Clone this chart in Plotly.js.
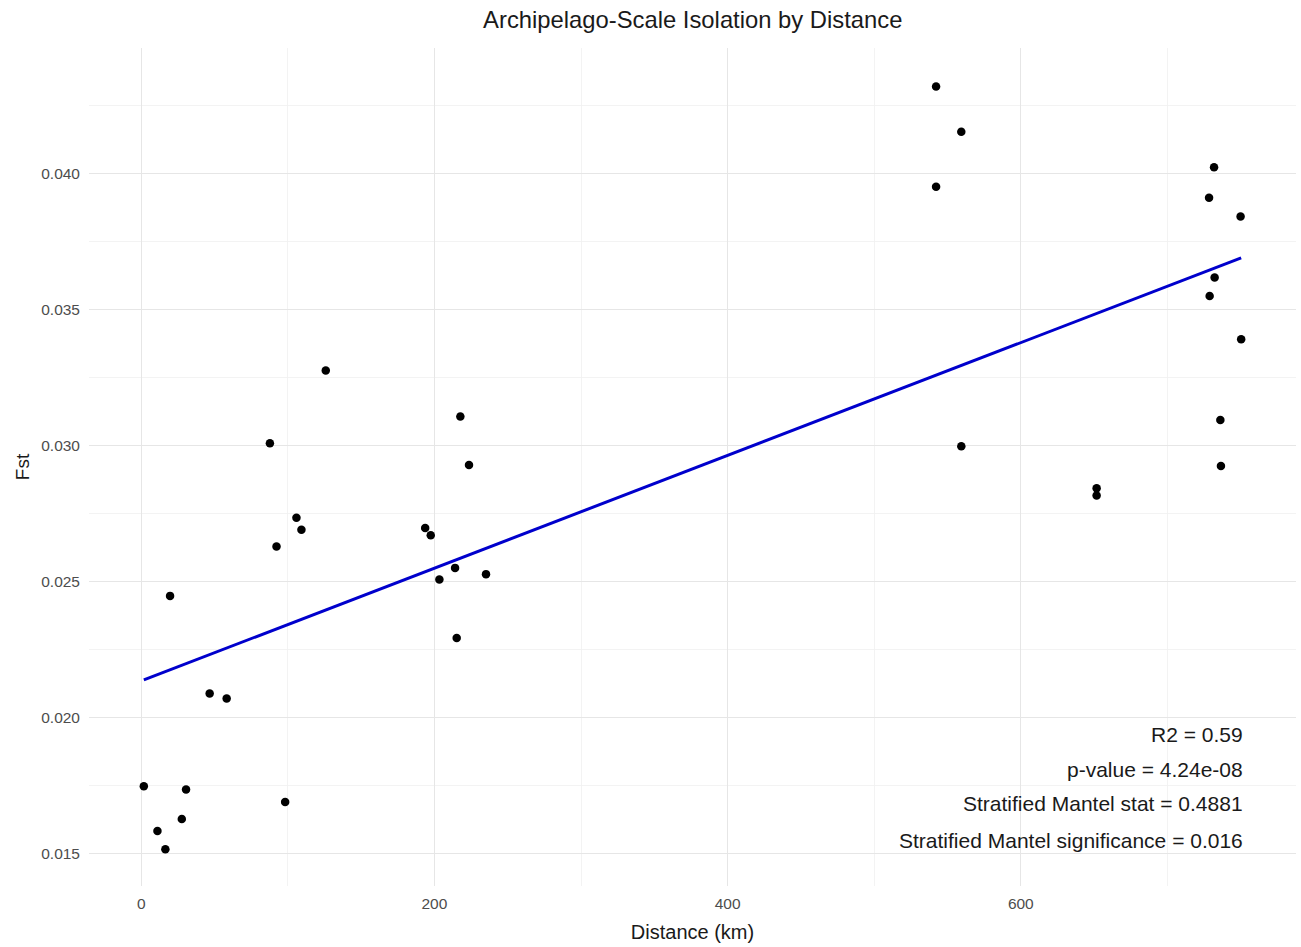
<!DOCTYPE html>
<html>
<head>
<meta charset="utf-8">
<script src="https://cdn.plot.ly/plotly-3.0.1.min.js"></script>
<style>html,body{margin:0;padding:0;background:#fff;}#chart{width:1301px;height:947px;}</style>
</head>
<body>
<div id="chart"></div>
<script>
// Pairwise distances (km) and Fst values
const distanceKm = [1.8, 11.1, 16.5, 19.7, 27.7, 30.6, 46.7, 58.3, 87.8, 92.3, 98.2, 105.9, 109.3, 125.9,
  193.7, 197.5, 203.4, 214.1, 215.2, 217.7, 223.6, 235.2,
  542.2, 542.2, 559.4, 559.4, 651.7, 651.7,
  728.4, 728.8, 731.8, 732.2, 736.1, 736.5, 749.9, 750.3];
const fst = [0.01747, 0.01582, 0.01515, 0.02447, 0.01626, 0.01735, 0.02088, 0.02070, 0.03008, 0.02629, 0.01689, 0.02734, 0.02690, 0.03276,
  0.02697, 0.02670, 0.02507, 0.02550, 0.02292, 0.03107, 0.02928, 0.02527,
  0.04320, 0.03952, 0.04154, 0.02997, 0.02843, 0.02816,
  0.03911, 0.03550, 0.04023, 0.03618, 0.03094, 0.02925, 0.03842, 0.03391];
// Fitted regression line endpoints
const fitX = [1.8, 750.3];
const fitY = [0.02138, 0.03690];
// Statistics text
const statLines = ["R2 = 0.59", "p-value = 4.24e-08", "Stratified Mantel stat = 0.4881", "Stratified Mantel significance = 0.016"];
const statY = [0.01937, 0.01809, 0.01684, 0.01548];
const xTicks = [0, 200, 400, 600];
const yTicks = [0.015, 0.020, 0.025, 0.030, 0.035, 0.040];
const yTickText = ["0.015", "0.020", "0.025", "0.030", "0.035", "0.040"];

const font = "Liberation Sans, Arial, sans-serif";
const traces = [
  {x: distanceKm, y: fst, type: "scatter", mode: "markers",
   marker: {color: "#000000", size: 8.5}, hoverinfo: "x+y"},
  {x: fitX, y: fitY, type: "scatter", mode: "lines",
   line: {color: "#0000cc", width: 3}}
];
const annotations = statLines.map((t, i) => ({
  text: t, x: 753, y: statY[i], xref: "x", yref: "y",
  xanchor: "right", yanchor: "middle", showarrow: false,
  font: {family: font, size: 21, color: "#1a1a1a"}
}));
const layout = {
  width: 1301, height: 947,
  paper_bgcolor: "#ffffff", plot_bgcolor: "#ffffff",
  showlegend: false,
  margin: {l: 89, r: 5, t: 48, b: 61},
  title: {text: "Archipelago-Scale Isolation by Distance", x: 0.5325, xanchor: "center", y: 0.979, yanchor: "middle",
    font: {family: font, size: 23.8, color: "#1a1a1a"}},
  xaxis: {range: [-35.6, 787.7], tickvals: xTicks, ticktext: xTicks.map(String),
    showgrid: true, gridcolor: "#e6e6e6", gridwidth: 1.2, zeroline: false, showline: false,
    ticks: "", ticklabelstandoff: 6, tickfont: {family: font, size: 15.5, color: "#4d4d4d"},
    minor: {tickvals: [100, 300, 500, 700], showgrid: true, gridcolor: "#f0f0f0", gridwidth: 0.8},
    title: {text: "Distance (km)", font: {family: font, size: 20, color: "#1a1a1a"}, standoff: 14},
    automargin: false},
  yaxis: {range: [0.0138, 0.04462], tickvals: yTicks, ticktext: yTickText,
    showgrid: true, gridcolor: "#e6e6e6", gridwidth: 1.2, zeroline: false, showline: false,
    ticks: "", ticklabelstandoff: 8, tickfont: {family: font, size: 15.5, color: "#4d4d4d"},
    minor: {tickvals: [0.0175, 0.0225, 0.0275, 0.0325, 0.0375, 0.0425], showgrid: true, gridcolor: "#f0f0f0", gridwidth: 0.8},
    title: {text: "Fst", font: {family: font, size: 19, color: "#1a1a1a"}, standoff: 6},
    automargin: false},
  annotations: annotations
};
Plotly.newPlot("chart", traces, layout, {displayModeBar: false, staticPlot: true});
</script>
</body>
</html>
